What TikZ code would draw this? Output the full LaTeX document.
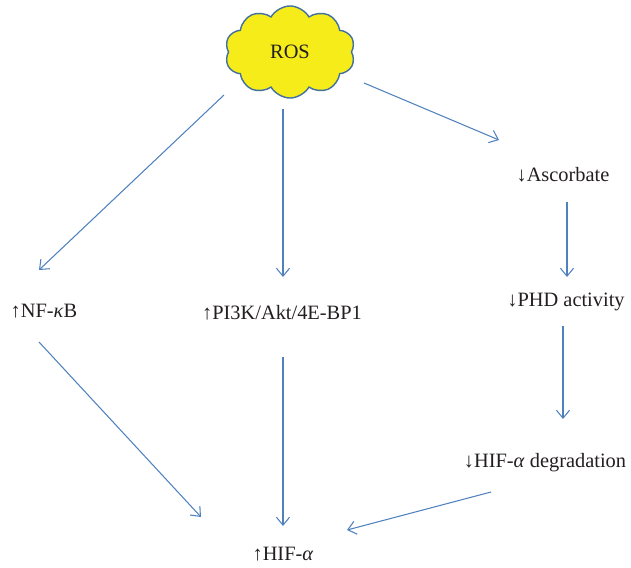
\documentclass[tikz,border=0pt]{standalone}
\usepackage{fontspec}
\setmainfont{Liberation Serif}
\usetikzlibrary{shapes.symbols, arrows.meta, calc}
\definecolor{rosyellow}{RGB}{245,236,26}
\definecolor{rosedge}{RGB}{65,113,156}
\definecolor{flowblue}{RGB}{79,129,189}
\definecolor{inktext}{RGB}{35,31,32}
\tikzset{
	label/.style={inner sep=0pt, text=inktext, font=\fontsize{14.5}{17}\selectfont},
	flow/.style={draw=flowblue, line width=0.75pt, -{Straight Barb[length=2mm, width=3.3mm]}}
}

\begin{document}
\begin{tikzpicture}[x=0.025cm, y=-0.025cm]
		\useasboundingbox (0,0) rectangle (631,567);

		\node[cloud, cloud puffs=10, cloud puff arc=120, aspect=1.4, draw=rosedge, line width=1pt,
			fill=rosyellow, minimum width=3.25cm, minimum height=2.3cm, label] (ros) at (290,52) {ROS};
		\node[label] (nfkb) at (44,311) {↑NF-\textit{κ}B};
		\node[label] (pik) at (282,313) {↑PI3K/Akt/4E-BP1};
		\node[label] (asc) at (563,175) {↓Ascorbate};
		\node[label] (phd) at (566,302) {↓PHD activity};
		\node[label] (deg) at (545,463) {↓HIF-\textit{α} degradation};
		\node[label] (hif) at (283,554) {↑HIF-\textit{α}};

		\draw[flow] ($(ros)+(-66,43)$) -- ($(nfkb)+(-5,-41)$);
		\draw[flow] ($(ros)+(-7,57)$) -- ($(pik)+(1,-36)$);
		\draw[flow] ($(ros)+(74,31)$) -- ($(asc)+(-64,-35)$);
		\draw[flow] ($(asc)+(4,27)$) -- ($(phd)+(1,-25)$);
		\draw[flow] ($(phd)+(-3,24)$) -- ($(deg)+(18,-44)$);
		\draw[flow] ($(nfkb)+(-5,31)$) -- ($(hif)+(-82,-37)$);
		\draw[flow] ($(pik)+(1,44)$) -- ($(hif)+(0,-28)$);
		\draw[flow] ($(deg)+(-54,29)$) -- ($(hif)+(64,-24)$);
	\end{tikzpicture}
\end{document}
